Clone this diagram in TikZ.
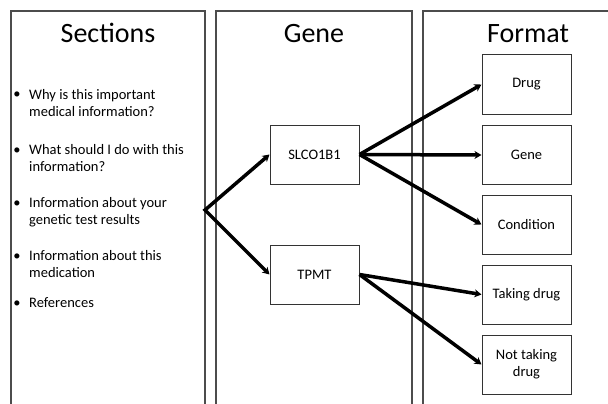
\documentclass[tikz,border=0pt]{standalone}
\usepackage{fontspec}
\setmainfont{Carlito}
\usetikzlibrary{arrows.meta}
\begin{document}
\begin{tikzpicture}[x=1pt,y=-1pt,
  panel/.style={draw=black!70,line width=1.4pt},
  title/.style={font=\fontsize{28}{32}\selectfont,anchor=base},
  item/.style={font=\fontsize{14.5}{17}\selectfont,anchor=base west,align=left,inner sep=0pt},
  bul/.style={font=\fontsize{14.5}{17}\selectfont,anchor=base,inner sep=0pt},
  box/.style={draw=black!80,line width=1pt,minimum width=89pt,minimum height=59pt,inner sep=2pt,
    font=\fontsize{14.5}{17}\selectfont,align=center},
  conn/.style={line width=3.5pt,-{Stealth[length=7pt,width=8pt]},line join=miter}
]
\useasboundingbox (0,0) rectangle (608,404);
% panels
\draw[panel] (11,410) -- (11,11) -- (205,11) -- (205,410);
\draw[panel] (216,410) -- (216,11) -- (412,11) -- (412,410);
\draw[panel] (423,410) -- (423,11) -- (615,11);
% titles
\node[title] (tsec) at (108,43) {Sections};
\node[title] (tgene) at (314,43) {Gene};
\node[title] (tfmt) at (528,43) {Format};
% bullet list (base anchor of a multi-line node is its last line)
\node[bul] (b1) at (17,99) {•};
\node[item] (i1) at (29,116) {Why is this important\\medical information?};
\node[bul] (b2) at (17,154) {•};
\node[item] (i2) at (29,171) {What should I do with this\\information?};
\node[bul] (b3) at (17,207) {•};
\node[item] (i3) at (29,224) {Information about your\\genetic test results};
\node[bul] (b4) at (17,260) {•};
\node[item] (i4) at (29,277) {Information about this\\medication};
\node[bul] (b5) at (17,307) {•};
\node[item] (i5) at (29,307) {References};
% gene boxes
\node[box] (slco) at (314.5,154.5) {SLCO1B1};
\node[box] (tpmt) at (314.5,274.5) {TPMT};
% format boxes
\node[box] (drug) at (526.5,84.5) {Drug};
\node[box] (gene) at (526.5,155) {Gene};
\node[box] (cond) at (526.5,224.5) {Condition};
\node[box] (take) at (526.5,294.5) {Taking drug};
\node[box] (nottake) at (526.5,364.5) {Not taking\\drug};
% connectors
\coordinate (branch) at (205,210);
\draw[conn,{Stealth[length=7pt,width=8pt]}-{Stealth[length=7pt,width=8pt]}] (slco.west) -- (branch) -- (tpmt.west);
\draw[conn] (slco.east) -- (drug.west);
\draw[conn] (slco.east) -- (gene.west);
\draw[conn] (slco.east) -- (cond.west);
\draw[conn] (tpmt.east) -- (take.west);
\draw[conn] (tpmt.east) -- (nottake.west);
\end{tikzpicture}
\end{document}
